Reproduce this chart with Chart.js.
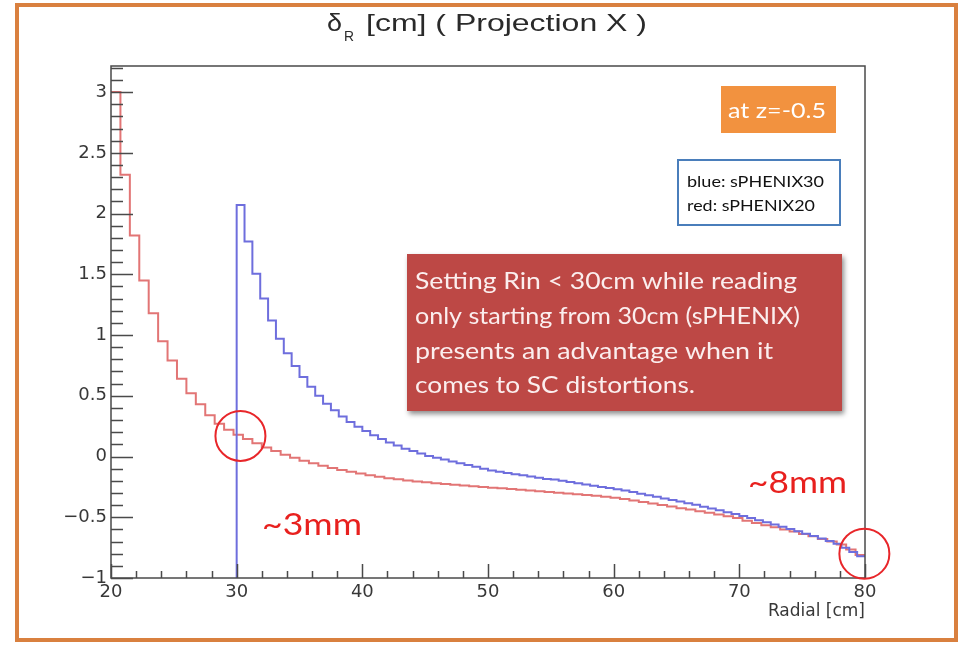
<!DOCTYPE html>
<html><head><meta charset="utf-8">
<script src="https://cdn.jsdelivr.net/npm/chart.js@4.4.1/dist/chart.umd.min.js"></script>
<style>html,body{margin:0;padding:0;background:#fff;}canvas{display:block;}</style>
</head><body>
<canvas id="c" width="961" height="648"></canvas>
<script>
// ---- data ----
const xTicks = [20, 30, 40, 50, 60, 70, 80];
const yTicks = [-1, -0.5, 0, 0.5, 1, 1.5, 2, 2.5, 3];
const redRange = [20, 80];   // sPHENIX20, 80 bins
const blueRange = [30, 80];  // sPHENIX30, 80 bins
const redValues = [
  3.0, 2.32, 1.82, 1.45, 1.18, 0.95, 0.79, 0.64, 0.52, 0.43,
  0.34, 0.27, 0.22, 0.18, 0.145, 0.11, 0.075, 0.045, 0.015, -0.01,
  -0.035, -0.055, -0.075, -0.095, -0.11, -0.125, -0.14, -0.155, -0.167, -0.178,
  -0.188, -0.197, -0.205, -0.212, -0.219, -0.226, -0.232, -0.238, -0.244, -0.25,
  -0.256, -0.262, -0.268, -0.274, -0.28, -0.286, -0.292, -0.298, -0.304, -0.31,
  -0.316, -0.323, -0.332, -0.34, -0.35, -0.362, -0.375, -0.387, -0.4, -0.412,
  -0.425, -0.437, -0.45, -0.463, -0.477, -0.492, -0.507, -0.528, -0.547, -0.565,
  -0.582, -0.6, -0.618, -0.637, -0.657, -0.678, -0.7, -0.725, -0.765, -0.81
];
const blueValues = [
  2.07, 1.77, 1.505, 1.30, 1.12, 0.97, 0.85, 0.745, 0.655, 0.575,
  0.50, 0.435, 0.38, 0.33, 0.285, 0.245, 0.21, 0.175, 0.145, 0.115,
  0.09, 0.065, 0.045, 0.025, 0.005, -0.01, -0.025, -0.04, -0.055, -0.07,
  -0.085, -0.1, -0.115, -0.125, -0.135, -0.145, -0.155, -0.165, -0.175, -0.185,
  -0.19, -0.2, -0.21, -0.22, -0.23, -0.24, -0.25, -0.26, -0.27, -0.28,
  -0.293, -0.306, -0.319, -0.332, -0.345, -0.358, -0.371, -0.384, -0.398, -0.413,
  -0.428, -0.443, -0.458, -0.474, -0.49, -0.507, -0.525, -0.542, -0.56, -0.578,
  -0.597, -0.616, -0.635, -0.655, -0.675, -0.696, -0.718, -0.75, -0.785, -0.82
];
const blueFloor = -1;

function histPoints(range, values, floor) {
  const w = (range[1] - range[0]) / values.length;
  const pts = [];
  if (floor !== undefined) pts.push({x: range[0], y: floor});
  values.forEach((v, i) => pts.push({x: range[0] + i * w, y: v}));
  pts.push({x: range[1], y: values[values.length - 1]});
  return pts;
}

function fitText(ctx, text, x, y, w, font, color, baseline) {
  ctx.save();
  ctx.font = font; ctx.fillStyle = color;
  ctx.textBaseline = baseline || 'middle'; ctx.textAlign = 'left';
  const m = ctx.measureText(text).width;
  ctx.translate(x, y); ctx.scale(w / m, 1);
  ctx.fillText(text, 0, 0);
  ctx.restore();
}

const decor = {
  id: 'decor',
  afterDraw(chart) {
    const ctx = chart.ctx, a = chart.chartArea;
    const xs = chart.scales.x, ys = chart.scales.y;
    ctx.save();
    // frame
    ctx.strokeStyle = '#4a4a4a'; ctx.lineWidth = 1.5;
    ctx.strokeRect(a.left, a.top, a.right - a.left, a.bottom - a.top);
    // y ticks (inward)
    ctx.beginPath();
    for (let i = 0; i <= 42; i++) {
      const v = -1 + i * 0.1;
      const py = Math.round(ys.getPixelForValue(v)) + 0.5;
      const major = i % 5 === 0;
      ctx.moveTo(a.left, py); ctx.lineTo(a.left + (major ? 22 : 12), py);
    }
    // x ticks (inward)
    for (let v = 20; v <= 80; v += 2) {
      const px = Math.round(xs.getPixelForValue(v)) + 0.5;
      const major = v % 10 === 0;
      ctx.moveTo(px, a.bottom); ctx.lineTo(px, a.bottom - (major ? 14 : 7));
    }
    ctx.stroke();

    // title
    const tc = '#2a2a2a';
    fitText(ctx, 'δ', 327, 31, 15, '24px "Liberation Sans"', tc, 'alphabetic');
    fitText(ctx, 'R', 344, 41, 10, '15px "Liberation Sans"', tc, 'alphabetic');
    fitText(ctx, '[cm] ( Projection X )', 366, 31, 281, '24px "Liberation Sans"', tc, 'alphabetic');

    // orange label
    ctx.fillStyle = '#F2923F';
    ctx.fillRect(721, 86, 115, 47);
    fitText(ctx, 'at z=-0.5', 728, 111, 98, '22px Lato', '#ffffff');

    // legend box
    ctx.fillStyle = '#ffffff'; ctx.fillRect(678, 160, 162, 65);
    ctx.strokeStyle = '#4A7EBB'; ctx.lineWidth = 2;
    ctx.strokeRect(678, 160, 162, 65);
    fitText(ctx, 'blue: sPHENIX30', 687, 182, 137, '15px Lato', '#111111');
    fitText(ctx, 'red: sPHENIX20', 687, 206, 128, '15px Lato', '#111111');

    // red comment box
    ctx.save();
    ctx.shadowColor = 'rgba(0,0,0,0.45)'; ctx.shadowBlur = 5;
    ctx.shadowOffsetX = 2; ctx.shadowOffsetY = 3;
    ctx.fillStyle = '#BD4845';
    ctx.fillRect(407, 254, 435, 157);
    ctx.restore();
    const wc = '#fbeeee';
    fitText(ctx, 'Setting Rin < 30cm while reading', 415, 282, 382, '23px Lato', wc);
    fitText(ctx, 'only starting from 30cm (sPHENIX)', 415, 317, 385, '23px Lato', wc);
    fitText(ctx, 'presents an advantage when it', 415, 352, 358, '23px Lato', wc);
    fitText(ctx, 'comes to SC distortions.', 415, 386, 280, '23px Lato', wc);

    // red circles
    ctx.strokeStyle = '#E8262A'; ctx.lineWidth = 2;
    ctx.beginPath();
    ctx.arc(xs.getPixelForValue(30.3), ys.getPixelForValue(0.17), 25, 0, Math.PI * 2);
    ctx.stroke();
    ctx.beginPath();
    ctx.arc(xs.getPixelForValue(79.95), ys.getPixelForValue(-0.8), 25, 0, Math.PI * 2);
    ctx.stroke();
    fitText(ctx, '~3mm', 262, 525, 100, '30px Lato', '#E8201E');
    fitText(ctx, '~8mm', 748, 483, 99, '30px Lato', '#E8201E');

    // outer orange slide frame
    ctx.strokeStyle = '#D9803F'; ctx.lineWidth = 4;
    ctx.strokeRect(17, 5, 939, 635);
    ctx.restore();
  }
};

const axisFont = {family: 'DejaVu Sans', size: 18};
new Chart(document.getElementById('c'), {
  type: 'line',
  data: {
    datasets: [
      {label: 'sPHENIX30', data: histPoints(blueRange, blueValues, blueFloor),
       borderColor: '#6E6EDD', borderWidth: 2, stepped: 'before', pointRadius: 0, order: 0},
      {label: 'sPHENIX20', data: histPoints(redRange, redValues),
       borderColor: '#E27575', borderWidth: 2, stepped: 'before', pointRadius: 0, order: 1}
    ]
  },
  options: {
    responsive: false, animation: false,
    layout: {padding: {left: 0, top: 66, right: 96, bottom: 0}},
    plugins: {legend: {display: false}, tooltip: {enabled: false}, title: {display: false}},
    scales: {
      x: {
        type: 'linear', min: 20, max: 80,
        grid: {display: false, drawTicks: false}, border: {display: false},
        afterBuildTicks: s => { s.ticks = xTicks.map(v => ({value: v})); },
        afterFit: s => { s.height = 70; },
        ticks: {font: axisFont, color: '#383838', padding: 4, maxRotation: 0},
        title: {display: true, text: 'Radial [cm]', align: 'end', color: '#383838',
                font: {family: 'DejaVu Sans', size: 17}, padding: {top: 0, bottom: 26}}
      },
      y: {
        type: 'linear', min: -1, max: 3.215,
        grid: {display: false, drawTicks: false}, border: {display: false},
        afterBuildTicks: s => { s.ticks = yTicks.map(v => ({value: v})); },
        afterFit: s => { s.width = 111; },
        ticks: {font: axisFont, color: '#383838', padding: 4,
                callback: v => v < 0 ? '\u2212' + Math.abs(v) : String(v)}
      }
    }
  },
  plugins: [decor]
});
</script>
</body></html>
